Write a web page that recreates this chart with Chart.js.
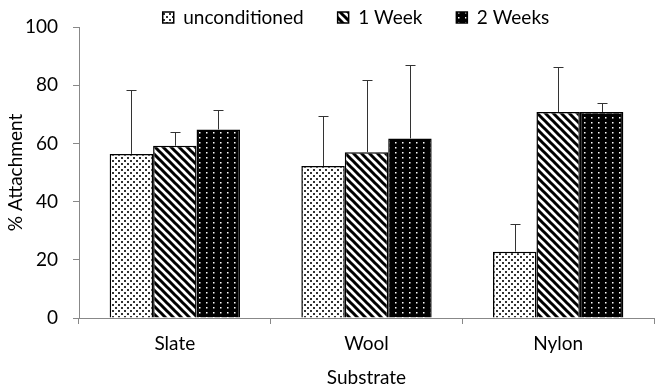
<!DOCTYPE html>
<html>
<head>
<meta charset="utf-8">
<script src="https://cdn.jsdelivr.net/npm/chart.js@4"></script>
<style>
  body { margin: 0; background: #fff; }
</style>
</head>
<body>
<canvas id="myChart" width="656" height="389"></canvas>
<script>
// data
const substrates = ["Slate", "Wool", "Nylon"];
const seriesNames = ["unconditioned", "1 Week", "2 Weeks"];
const uncond = [56.4, 52.2, 22.8];
const uncondErr = [22.0, 17.2, 9.5];
const week1 = [59.2, 57.0, 70.8];
const week1Err = [4.6, 24.8, 15.6];
const week2 = [64.8, 61.7, 70.8];
const week2Err = [6.7, 25.2, 3.2];
const yTicks = [0, 20, 40, 60, 80, 100];

const FONT = "Lato";
const FS = 19;

// patterns
function makeTile(w, h, draw) {
  const c = document.createElement("canvas");
  c.width = w; c.height = h;
  const g = c.getContext("2d");
  draw(g, w, h);
  return document.getElementById("myChart").getContext("2d").createPattern(c, "repeat");
}

const dotsPattern = makeTile(6, 6, function (g) {
  g.fillStyle = "#fff";
  g.fillRect(0, 0, 6, 6);
  g.fillStyle = "#333";
  g.fillRect(1, 1, 2, 2);
  g.fillRect(4, 4, 2, 2);
});

const stripePattern = makeTile(8, 8, function (g) {
  g.fillStyle = "#fff";
  g.fillRect(0, 0, 8, 8);
  g.strokeStyle = "#000";
  g.lineWidth = 3;
  g.beginPath();
  g.moveTo(-2, -2); g.lineTo(10, 10);
  g.moveTo(-10, -2); g.lineTo(2, 10);
  g.moveTo(6, -2); g.lineTo(18, 10);
  g.stroke();
});

const blackDotsPattern = makeTile(7, 5, function (g) {
  g.fillStyle = "#000";
  g.fillRect(0, 0, 7, 5);
  g.fillStyle = "#fff";
  g.fillRect(3, 2, 1.5, 1.5);
});

// upper error bars drawn from the y scale
const errorBars = {
  id: "errorBars",
  afterDatasetsDraw(chart) {
    const ctx = chart.ctx;
    const y = chart.scales.y;
    ctx.save();
    ctx.strokeStyle = "#333";
    ctx.lineWidth = 1;
    chart.data.datasets.forEach(function (ds, i) {
      const meta = chart.getDatasetMeta(i);
      meta.data.forEach(function (bar, j) {
        const top = Math.round(y.getPixelForValue(ds.data[j] + ds.err[j])) + 0.5;
        const x = Math.round(bar.x) + 0.5;
        ctx.beginPath();
        ctx.moveTo(x, bar.y);
        ctx.lineTo(x, top);
        ctx.moveTo(x - 5, top);
        ctx.lineTo(x + 5, top);
        ctx.stroke();
      });
    });
    ctx.restore();
  }
};

const ctx = document.getElementById("myChart").getContext("2d");

const myChart = new Chart(ctx, {
  type: "bar",
  data: {
    labels: substrates,
    datasets: [
      { label: seriesNames[0], data: uncond, err: uncondErr, backgroundColor: dotsPattern },
      { label: seriesNames[1], data: week1, err: week1Err, backgroundColor: stripePattern },
      { label: seriesNames[2], data: week2, err: week2Err, backgroundColor: blackDotsPattern }
    ]
  },
  options: {
    responsive: false,
    animation: false,
    // negative padding moves the legend up and right, like the original
    layout: { padding: { left: 0, right: -56, top: -26, bottom: 0 } },
    datasets: {
      bar: {
        borderColor: "#000",
        borderWidth: 1.5,
        categoryPercentage: 0.68,
        barPercentage: 1
      }
    },
    plugins: {
      tooltip: { enabled: false },
      legend: {
        position: "top",
        maxHeight: 53,
        labels: {
          color: "#000",
          font: { family: FONT, size: FS },
          boxWidth: 11,
          boxHeight: 11,
          padding: 34
        }
      }
    },
    scales: {
      x: {
        afterFit: function (axis) {
          axis.height = 71;
          axis.paddingRight = 2;
        },
        grid: {
          offset: true,
          drawOnChartArea: false,
          color: "#888",
          tickLength: 6
        },
        border: { color: "#888", width: 1 },
        ticks: { color: "#000", font: { family: FONT, size: FS }, padding: 8 },
        title: {
          display: true,
          text: "Substrate",
          color: "#000",
          font: { family: FONT, size: FS },
          padding: { top: 0, bottom: 0 }
        }
      },
      y: {
        min: 0,
        max: 100,
        afterBuildTicks: function (axis) {
          axis.ticks = yTicks.map(function (v) { return { value: v }; });
        },
        afterFit: function (axis) {
          axis.width = 79;
        },
        grid: {
          drawOnChartArea: false,
          color: "#888",
          tickLength: 6
        },
        border: { color: "#888", width: 1 },
        ticks: { color: "#000", font: { family: FONT, size: FS }, padding: 15 },
        title: {
          display: true,
          text: "% Attachment",
          color: "#000",
          font: { family: FONT, size: FS },
          padding: { top: 4, bottom: 4 }
        }
      }
    }
  },
  plugins: [errorBars]
});
</script>
</body>
</html>
